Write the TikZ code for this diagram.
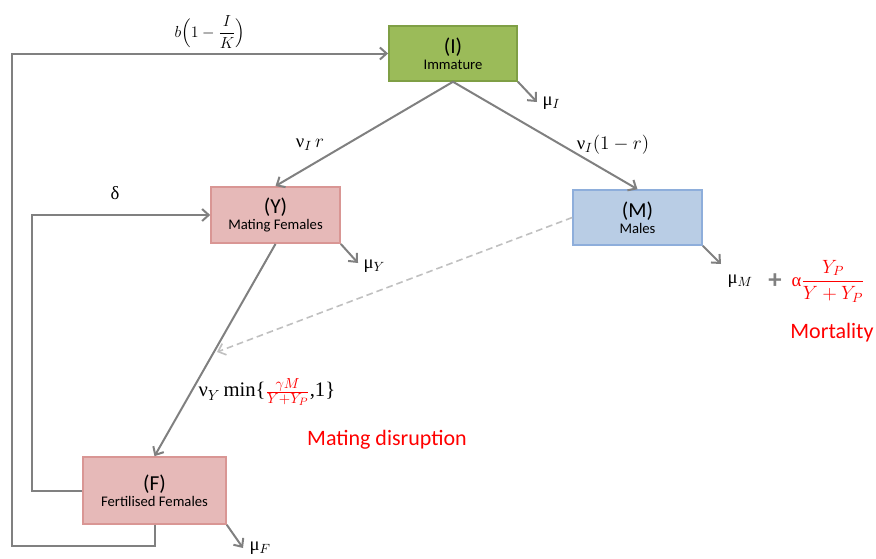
\documentclass[tikz,border=0pt]{standalone}
\usepackage{amsmath}
\usepackage{fontspec}
\setmainfont{Carlito}
\newfontfamily\grk{Liberation Serif}
\usetikzlibrary{arrows.meta}
\definecolor{lnk}{HTML}{808080}
\definecolor{dsh}{HTML}{C0C0C0}
\definecolor{gfill}{HTML}{9BBB59}
\definecolor{gdraw}{HTML}{7F9F45}
\definecolor{pfill}{HTML}{E6B9B8}
\definecolor{pdraw}{HTML}{D99694}
\definecolor{bfill}{HTML}{B9CDE5}
\definecolor{bdraw}{HTML}{8EAEDB}
\definecolor{rtext}{HTML}{FF0000}
\begin{document}
\begin{tikzpicture}[x=0.75pt,y=-0.75pt,
  box/.style={draw, line width=1.4pt, align=center, inner sep=0pt, text=black},
  link/.style={draw=lnk, line width=1.5pt, -{Straight Barb[length=5pt,width=9pt]}},
  dlink/.style={draw=dsh, line width=1.2pt, dashed, dash pattern=on 5pt off 3pt, -{Straight Barb[length=5pt,width=9pt]}},
  lab/.style={font=\fontsize{14}{16}\selectfont, inner sep=1pt},
  rlab/.style={font=\fontsize{16.5}{19}\selectfont, text=rtext, inner sep=1pt}]
\useasboundingbox (0,0) rectangle (876,558);

\newcommand\bx[2]{{\fontsize{16}{18}\selectfont #1}\\[0pt]{\fontsize{11}{13}\selectfont #2}}

\node[box, fill=gfill, draw=gdraw, minimum width=96pt, minimum height=41pt] (I) at (453,53.5) {\bx{(I)}{Immature}};
\node[box, fill=pfill, draw=pdraw, minimum width=96.5pt, minimum height=42pt] (Y) at (275.5,215) {\bx{(Y)}{Mating Females}};
\node[box, fill=bfill, draw=bdraw, minimum width=96.5pt, minimum height=41pt] (M) at (637.5,217.5) {\bx{(M)}{Males}};
\node[box, fill=pfill, draw=pdraw, minimum width=107pt, minimum height=50pt] (F) at (154.5,490.5) {\bx{(F)}{Fertilised Females}};

% flows
\draw[link] (I.south) -- (Y.north);
\draw[link] (I.south) -- (M.north);
\draw[link] (Y.south) -- (F.north);

% dashed interference
\coordinate (dt) at (217,352);
\draw[dlink] (M.west) -- (dt);

% loops
\draw[link] (F.west) -- ++(-50,0) |- (Y.west);
\coordinate (c1) at (12,546);
\draw[link] (F.south) |- (c1) |- (I.west);

% mortality arrows
\coordinate (mI) at (537,102);
\coordinate (mY) at (358,263);
\coordinate (mM) at (721,264);
\coordinate (mF) at (243,548);
\draw[link] (I.south east) -- (mI);
\draw[link] (Y.south east) -- (mY);
\draw[link] (M.south east) -- (mM);
\draw[link] (F.south east) -- (mF);

\node[lab, anchor=west] (lI) at (541,103) {{\grk μ}$_I$};
\node[lab, anchor=west] (lY) at (362,266) {{\grk μ}$_Y$};
\node[lab, anchor=west] (lM) at (726,281) {{\grk μ}$_M$};
\node[lab, anchor=west] (lF) at (248,548) {{\grk μ}$_F$};

% rate labels
\node[font=\fontsize{13}{15}\selectfont, inner sep=0pt] (lb) at (210,32) {$b\Bigl(1-\dfrac{I}{K}\Bigr)$};
\node[lab] (lr) at (310,145) {{\grk ν}$_I\,r$};
\node[lab] (l1r) at (613,145) {{\grk ν}$_I(1-r)$};
\node[lab] (ld) at (115,193) {{\grk δ}};
\node[font=\fontsize{15.5}{18}\selectfont, inner sep=1pt, anchor=west] (lmin) at (197,392) {{\grk ν}$_Y\,${\grk min\{}$\textcolor{rtext}{\frac{\gamma M}{Y+Y_P}}${\grk ,1\}}};

% mortality extra
\node[font=\fontsize{20}{22}\selectfont\bfseries, text=lnk, inner sep=0pt] (plus) at (775,281) {+};
\node[lab, text=rtext, anchor=west] (la) at (790,281) {{\grk α}$\dfrac{Y_P}{Y+Y_P}$};

\node[rlab] (mort) at (832,333) {Mortality};
\node[rlab] (mdis) at (387,440) {Mating disruption};
\end{tikzpicture}
\end{document}
